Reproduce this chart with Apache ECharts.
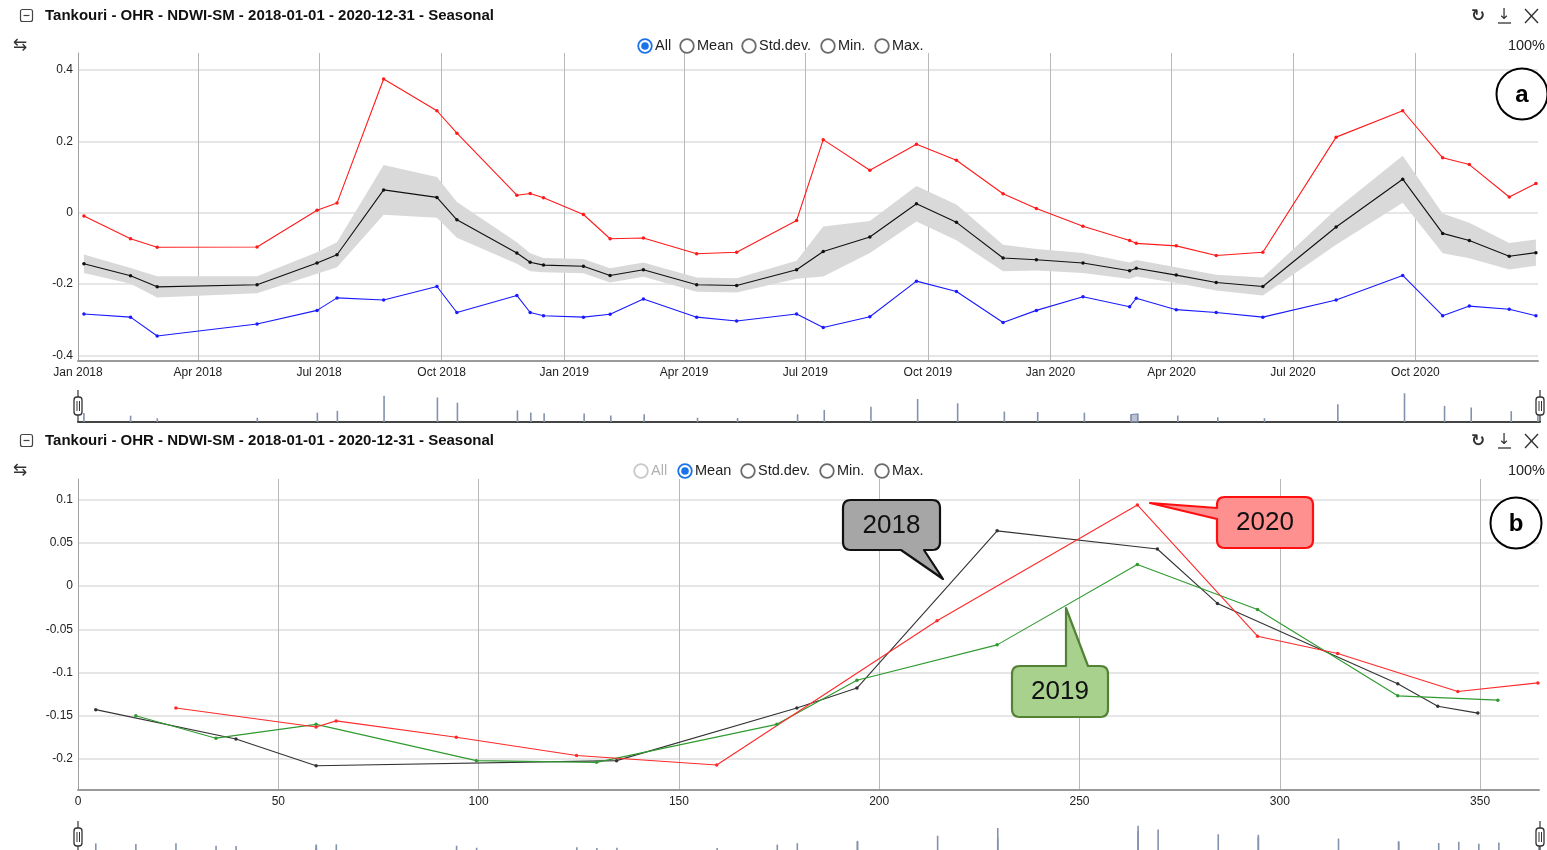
<!DOCTYPE html>
<html>
<head>
<meta charset="utf-8">
<script src="https://cdn.jsdelivr.net/npm/echarts@6/dist/echarts.min.js"></script>
<style>
html,body{margin:0;padding:0;background:#ffffff;}
#c{width:1547px;height:850px;}
</style>
</head>
<body>
<div id="c"></div>
<script>
// ---------------- DATA ----------------
// day-of-year (0 = 1 January) of each acquisition, per year
const doy2018 = [4, 39, 59, 134, 179, 194, 229, 269, 284, 329, 339, 349];
const max2018 = [-0.009, -0.073, -0.097, -0.096, 0.007, 0.027, 0.375, 0.286, 0.223, 0.049, 0.054, 0.042];
const mean2018 = [-0.143, -0.177, -0.208, -0.202, -0.141, -0.118, 0.064, 0.043, -0.020, -0.113, -0.139, -0.147];
const sd2018 = [0.026, 0.022, 0.030, 0.024, 0.030, 0.035, 0.070, 0.057, 0.050, 0.030, 0.025, 0.020];
const min2018 = [-0.284, -0.293, -0.346, -0.312, -0.274, -0.239, -0.245, -0.207, -0.280, -0.232, -0.280, -0.289];

const doy2019 = [14, 34, 59, 99, 129, 174, 194, 229, 264, 294, 329, 354];
const max2019 = [-0.005, -0.073, -0.071, -0.115, -0.111, -0.022, 0.205, 0.119, 0.192, 0.147, 0.053, 0.012];
const mean2019 = [-0.150, -0.176, -0.160, -0.202, -0.204, -0.160, -0.109, -0.068, 0.025, -0.027, -0.127, -0.132];
const sd2019 = [0.020, 0.020, 0.020, 0.020, 0.020, 0.025, 0.070, 0.045, 0.050, 0.050, 0.037, 0.030];
const min2019 = [-0.293, -0.285, -0.242, -0.293, -0.304, -0.284, -0.322, -0.292, -0.192, -0.221, -0.308, -0.274];

const doy2020 = [24, 59, 64, 94, 124, 159, 214, 264, 294, 314, 344, 364];
const max2020 = [-0.038, -0.078, -0.086, -0.093, -0.120, -0.111, 0.212, 0.286, 0.154, 0.135, 0.044, 0.082];
const mean2020 = [-0.141, -0.163, -0.156, -0.175, -0.196, -0.207, -0.040, 0.094, -0.058, -0.078, -0.122, -0.112];
const sd2020 = [0.028, 0.023, 0.023, 0.022, 0.022, 0.025, 0.050, 0.066, 0.056, 0.050, 0.037, 0.037];
const min2020 = [-0.236, -0.264, -0.240, -0.272, -0.280, -0.293, -0.245, -0.176, -0.289, -0.262, -0.271, -0.289];

const acquisitionHourUTC = 10.5;

// tick labels
const xTicksA = ['2018-01-01','2018-04-01','2018-07-01','2018-10-01','2019-01-01','2019-04-01',
                 '2019-07-01','2019-10-01','2020-01-01','2020-04-01','2020-07-01','2020-10-01'];
const yTicksA = [-0.4, -0.2, 0, 0.2, 0.4];
const xTicksB = [0, 50, 100, 150, 200, 250, 300, 350];
const yTicksB = [-0.2, -0.15, -0.1, -0.05, 0, 0.05, 0.1];
const MONTHS = ['Jan','Feb','Mar','Apr','May','Jun','Jul','Aug','Sep','Oct','Nov','Dec'];

// ---------------- BUILD ----------------
const DAY = 86400000;
const years = [
  {year: 2018, doy: doy2018, max: max2018, mean: mean2018, sd: sd2018, min: min2018, color: '#333333'},
  {year: 2019, doy: doy2019, max: max2019, mean: mean2019, sd: sd2019, min: min2019, color: '#2f9a2f'},
  {year: 2020, doy: doy2020, max: max2020, mean: mean2020, sd: sd2020, min: min2020, color: '#ff2a2a'}
];
const T = [], MAXV = [], MEANV = [], SDV = [], MINV = [];
years.forEach(y => y.doy.forEach((d, i) => {
  T.push(Date.UTC(y.year, 0, 1) + d * DAY + acquisitionHourUTC * 3600000);
  MAXV.push(y.max[i]); MEANV.push(y.mean[i]); SDV.push(y.sd[i]); MINV.push(y.min[i]);
}));
const pairs = (xs, ys) => xs.map((x, i) => [x, ys[i]]);
const frac = acquisitionHourUTC / 24;

const FONT = '"Liberation Sans", Arial, Helvetica, sans-serif';
const axisText = {color: '#222', fontFamily: FONT, fontSize: 12};

// ---------------- GRAPHIC DECORATIONS ----------------
const g = [];
function txt(x, y, text, font, fill, align, z) {
  g.push({type: 'text', x: x, y: y, silent: true, z: z || 10,
    style: {text: text, font: font, fill: fill, textAlign: align || 'left', align: align || 'left',
            textVerticalAlign: 'middle', verticalAlign: 'middle'}});
}
function radio(cx, cy, label, state) {
  const ring = state === 'on' ? '#1a73e8' : (state === 'off' ? '#6b6b6b' : '#c8c8c8');
  g.push({type: 'circle', silent: true, z: 10, shape: {cx: cx, cy: cy, r: 6.8},
          style: {fill: '#fff', stroke: ring, lineWidth: 1.8}});
  if (state === 'on') g.push({type: 'circle', silent: true, z: 10, shape: {cx: cx, cy: cy, r: 3.8}, style: {fill: '#1a73e8'}});
  txt(cx + 10, cy, label, '14.5px ' + FONT, state === 'dis' ? '#b0b0b0' : '#222');
}
function header(yTitle, yRadio, title, radios) {
  g.push({type: 'rect', silent: true, z: 10, shape: {x: 20.5, y: yTitle - 6.5, width: 12, height: 12, r: 2},
          style: {fill: 'none', stroke: '#444', lineWidth: 1.2}});
  g.push({type: 'line', silent: true, z: 10, shape: {x1: 23.5, y1: yTitle - 0.5, x2: 29.5, y2: yTitle - 0.5},
          style: {stroke: '#444', lineWidth: 1.2}});
  txt(45, yTitle, title, '600 15px ' + FONT, '#111');
  txt(1478, yTitle + 1, '\u21BB', 'bold 17px "DejaVu Sans", sans-serif', '#333', 'center');
  txt(1504, yTitle - 1, '\u2193', '15px "DejaVu Sans", sans-serif', '#333', 'center');
  g.push({type: 'line', silent: true, z: 10, shape: {x1: 1498, y1: yTitle + 7, x2: 1511, y2: yTitle + 7},
          style: {stroke: '#333', lineWidth: 1.3}});
  g.push({type: 'line', silent: true, z: 10, shape: {x1: 1525, y1: yTitle - 7, x2: 1538, y2: yTitle + 7},
          style: {stroke: '#333', lineWidth: 1.4}});
  g.push({type: 'line', silent: true, z: 10, shape: {x1: 1538, y1: yTitle - 7, x2: 1525, y2: yTitle + 7},
          style: {stroke: '#333', lineWidth: 1.4}});
  txt(20, yRadio, '\u21C6', '17px "DejaVu Sans", sans-serif', '#333', 'center');
  radios.forEach(r => radio(r[0], yRadio, r[1], r[2]));
  txt(1545, yRadio, '100%', '14.5px ' + FONT, '#222', 'right');
}
const TITLE = 'Tankouri - OHR - NDWI-SM - 2018-01-01 - 2020-12-31 - Seasonal';
header(16, 46, TITLE, [[645, 'All', 'on'], [687, 'Mean', 'off'], [749, 'Std.dev.', 'off'], [828, 'Min.', 'off'], [882, 'Max.', 'off']]);
header(441, 471, TITLE, [[641, 'All', 'dis'], [685, 'Mean', 'on'], [748, 'Std.dev.', 'off'], [827, 'Min.', 'off'], [882, 'Max.', 'off']]);

// panel letters
[[1522, 94, 'a'], [1516, 523, 'b']].forEach(p => {
  g.push({type: 'circle', silent: true, z: 10, shape: {cx: p[0], cy: p[1], r: 25.5},
          style: {fill: '#fff', stroke: '#000', lineWidth: 2}});
  txt(p[0], p[1] + 1, p[2], 'bold 24px ' + FONT, '#000', 'center');
});

// range selector handles
function handle(x, yTop) {
  g.push({type: 'line', silent: true, z: 12, shape: {x1: x, y1: yTop - 7, x2: x, y2: yTop + 25},
          style: {stroke: '#333', lineWidth: 1.2}});
  g.push({type: 'rect', silent: true, z: 12, shape: {x: x - 4, y: yTop, width: 8, height: 18, r: 3},
          style: {fill: '#fff', stroke: '#333', lineWidth: 1.3}});
  g.push({type: 'line', silent: true, z: 12, shape: {x1: x - 1, y1: yTop + 4, x2: x - 1, y2: yTop + 14}, style: {stroke: '#333', lineWidth: 1}});
  g.push({type: 'line', silent: true, z: 12, shape: {x1: x + 1.5, y1: yTop + 4, x2: x + 1.5, y2: yTop + 14}, style: {stroke: '#333', lineWidth: 1}});
}
handle(78, 397); handle(1540, 397);
handle(78, 828); handle(1540, 828);

// year callouts: outline vertices [x, y, cornerRadius]
function rounded(verts) {
  const out = [];
  const n = verts.length;
  for (let i = 0; i < n; i++) {
    const P = verts[i], r = P[2] || 0;
    if (!r) { out.push([P[0], P[1]]); continue; }
    const A = verts[(i - 1 + n) % n], B = verts[(i + 1) % n];
    const la = Math.hypot(A[0] - P[0], A[1] - P[1]), lb = Math.hypot(B[0] - P[0], B[1] - P[1]);
    const s = [P[0] + (A[0] - P[0]) / la * r, P[1] + (A[1] - P[1]) / la * r];
    const e = [P[0] + (B[0] - P[0]) / lb * r, P[1] + (B[1] - P[1]) / lb * r];
    for (let k = 0; k <= 6; k++) {
      const t = k / 6, u = 1 - t;
      out.push([u * u * s[0] + 2 * u * t * P[0] + t * t * e[0], u * u * s[1] + 2 * u * t * P[1] + t * t * e[1]]);
    }
  }
  return out;
}
function callout(verts, fill, stroke, tx, ty, label) {
  g.push({type: 'polygon', silent: true, z: 20, shape: {points: rounded(verts)},
          style: {fill: fill, stroke: stroke, lineWidth: 2.2, lineJoin: 'round'}});
  txt(tx, ty, label, '26px ' + FONT, '#111', 'center', 21);
}
callout([[843, 500, 8], [940, 500, 8], [940, 550, 8], [924, 550], [943, 579], [901, 550], [843, 550, 8]],
        '#a6a6a6', '#111', 891.5, 526, '2018');
callout([[1217, 497, 8], [1313, 497, 8], [1313, 548, 8], [1217, 548, 8], [1217, 519], [1150, 503], [1217, 508]],
        '#ff9090', '#ff1010', 1265, 523, '2020');
callout([[1012, 666, 8], [1066, 666], [1066, 608], [1088, 666], [1108, 666, 8], [1108, 717, 8], [1012, 717, 8]],
        '#a9d18e', '#538135', 1060, 692, '2019');

// ---------------- CHART ----------------
function navRender(xs, ys, fillGap) {
  return function (params, api) {
    const i = params.dataIndex;
    const p = api.coord([xs[i], ys[i]]);
    const base = params.coordSys.y + params.coordSys.height;
    const color = '#8392ad';
    const items = [{type: 'line', shape: {x1: p[0], y1: p[1], x2: p[0], y2: base}, style: {stroke: color, lineWidth: 1.6}}];
    if (fillGap && i > 0 && xs[i] - xs[i - 1] <= fillGap) {
      const q = api.coord([xs[i - 1], ys[i - 1]]);
      items.push({type: 'polygon', shape: {points: [q, p, [p[0], base], [q[0], base]]},
                  style: {fill: 'rgba(131,146,173,0.55)', stroke: color, lineWidth: 1.2}});
    }
    return {type: 'group', children: items};
  };
}

function lineSeries(name, xi, data, color, z) {
  return {type: 'line', name: name, xAxisIndex: xi, yAxisIndex: xi, data: data,
    symbol: 'circle', symbolSize: 3.5, showSymbol: true, showAllSymbol: true,
    lineStyle: {color: color, width: 1.1}, itemStyle: {color: color},
    emphasis: {disabled: true}, silent: true, z: z || 3, animation: false};
}

const xTickValsA = xTicksA.map(s => Date.parse(s + 'T00:00:00Z'));
const xMinA = Date.parse('2018-01-01T00:00:00Z');
const xMaxA = Date.parse('2021-01-01T00:00:00Z');

const bX = [], bY = [];
years.forEach(y => y.doy.forEach((d, i) => { bX.push(d + frac); bY.push(y.mean[i]); }));

const option = {
  animation: false,
  backgroundColor: '#ffffff',
  grid: [
    {left: 78, top: 53, width: 1460, height: 308, outerBoundsMode: 'none'},
    {left: 78, top: 393, width: 1462, height: 29, outerBoundsMode: 'none'},
    {left: 78, top: 479, width: 1461, height: 311, outerBoundsMode: 'none'},
    {left: 78, top: 825, width: 1462, height: 30, outerBoundsMode: 'none'}
  ],
  xAxis: [
    {type: 'value', gridIndex: 0, min: xMinA, max: xMaxA, scale: true,
     axisLine: {show: true, onZero: false, lineStyle: {color: '#9a9a9a', width: 2}},
     axisTick: {show: false, customValues: xTickValsA},
     axisLabel: Object.assign({customValues: xTickValsA, margin: 6, hideOverlap: false,
       formatter: v => { const d = new Date(v); return MONTHS[d.getUTCMonth()] + ' ' + d.getUTCFullYear(); }}, axisText),
     splitLine: {show: true, lineStyle: {color: '#b8b8b8', width: 1}}},
    {type: 'value', gridIndex: 1, min: xMinA, max: xMaxA, scale: true,
     axisLine: {show: true, onZero: false, lineStyle: {color: '#444', width: 2}},
     axisTick: {show: false}, axisLabel: {show: false}, splitLine: {show: false}},
    {type: 'value', gridIndex: 2, min: 0, max: 364.7,
     axisLine: {show: true, onZero: false, lineStyle: {color: '#9a9a9a', width: 2}},
     axisTick: {show: false, customValues: xTicksB},
     axisLabel: Object.assign({customValues: xTicksB, margin: 6, hideOverlap: false}, axisText),
     splitLine: {show: true, lineStyle: {color: '#b8b8b8', width: 1}}},
    {type: 'value', gridIndex: 3, min: 0, max: 364.7,
     axisLine: {show: false}, axisTick: {show: false}, axisLabel: {show: false}, splitLine: {show: false}}
  ],
  yAxis: [
    {type: 'value', gridIndex: 0, min: -0.416, max: 0.448,
     axisLine: {show: true, lineStyle: {color: '#a0a0a0', width: 1}},
     axisTick: {show: false, customValues: yTicksA},
     axisLabel: Object.assign({customValues: yTicksA, margin: 5, formatter: v => String(v)}, axisText),
     splitLine: {show: true, lineStyle: {color: '#dedede', width: 1.5}}},
    {type: 'value', gridIndex: 1, min: -0.253, max: 0.097, show: false, splitLine: {show: false}},
    {type: 'value', gridIndex: 2, min: -0.236, max: 0.124,
     axisLine: {show: true, lineStyle: {color: '#a0a0a0', width: 1}},
     axisTick: {show: false, customValues: yTicksB},
     axisLabel: Object.assign({customValues: yTicksB, margin: 5, formatter: v => String(v)}, axisText),
     splitLine: {show: true, lineStyle: {color: '#dedede', width: 1.5}}},
    {type: 'value', gridIndex: 3, min: -0.3, max: 0.105, show: false, splitLine: {show: false}}
  ],
  series: [
    {type: 'custom', xAxisIndex: 0, yAxisIndex: 0, silent: true, z: 1,
     data: T.map((t, i) => [t, MEANV[i]]),
     renderItem: function (params, api) {
       if (params.dataIndex !== 0) return null;
       const pts = [];
       for (let i = 0; i < T.length; i++) pts.push(api.coord([T[i], MEANV[i] + SDV[i]]));
       for (let i = T.length - 1; i >= 0; i--) pts.push(api.coord([T[i], MEANV[i] - SDV[i]]));
       return {type: 'polygon', shape: {points: pts}, style: {fill: '#d9d9d9'}};
     }},
    lineSeries('Max.', 0, pairs(T, MAXV), '#ff1a1a', 3),
    lineSeries('Mean', 0, pairs(T, MEANV), '#111111', 4),
    lineSeries('Min.', 0, pairs(T, MINV), '#1a1aff', 3),
    {type: 'custom', xAxisIndex: 1, yAxisIndex: 1, silent: true, z: 2,
     data: pairs(T, MEANV), renderItem: navRender(T, MEANV, 5.5 * DAY)},
    ...years.map(y => lineSeries(String(y.year), 2, y.doy.map((d, i) => [d + frac, y.mean[i]]), y.color, 3)),
    {type: 'custom', xAxisIndex: 3, yAxisIndex: 3, silent: true, z: 2,
     data: pairs(bX, bY), renderItem: navRender(bX, bY, 0)}
  ],
  graphic: {elements: g}
};

const chart = echarts.init(document.getElementById('c'), null, {width: 1547, height: 850});
chart.setOption(option);
</script>
</body>
</html>
